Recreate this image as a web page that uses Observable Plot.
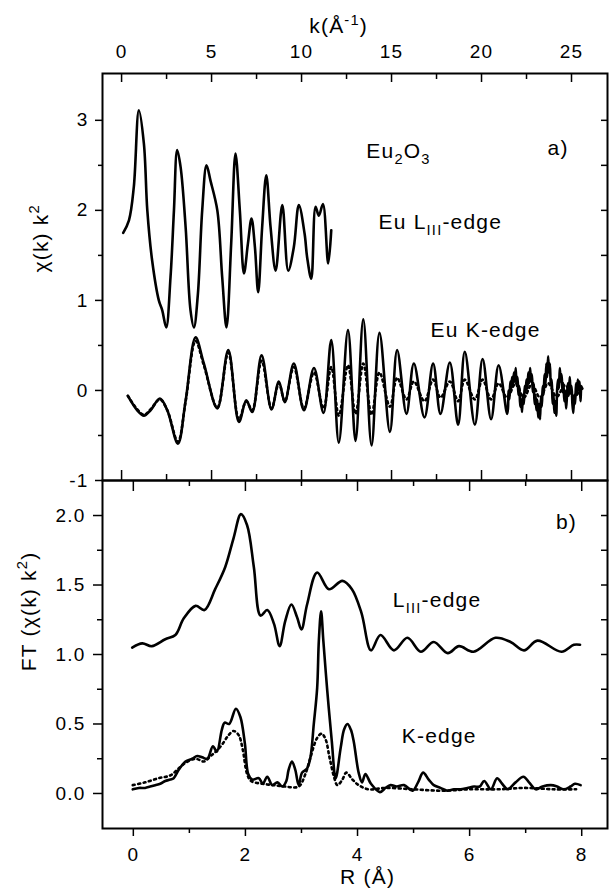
<!DOCTYPE html>
<html><head><meta charset="utf-8">
<script src="https://cdn.jsdelivr.net/npm/d3@7"></script>
<script src="https://cdn.jsdelivr.net/npm/@observablehq/plot@0.6"></script>
<style>
body{margin:0;background:#fff;}
#wrap{position:relative;width:609px;height:889px;overflow:hidden;}
#wrap svg{position:absolute;left:0;overflow:visible;background:transparent;font-family:"Liberation Sans",Arial,Helvetica,sans-serif;color:#000;}
#wrap svg text{letter-spacing:1.2px;}
</style></head><body><div id="wrap"></div>
<script>
// ---------- panel a) chi(k) k^2 ----------
const kTicksMajor = [0, 5, 10, 15, 20, 25];
const kTicksMinor = [2.5, 7.5, 12.5, 17.5, 22.5];
const chiTicksMajor = [-1, 0, 1, 2, 3];
const chiTicksMinor = [-0.5, 0.5, 1.5, 2.5];
const chiTicksRight = [-0.5, 0, 0.5, 1, 1.5, 2, 2.5, 3];

// Eu L_III-edge, experimental [k, chi k^2]
const l3Exafs = [[0.09,1.75],[0.41,1.89],[0.68,2.26],[0.96,3.11],[1.24,2.74],[1.43,2.0],[1.7,1.44],[2.07,1.0],[2.26,0.89],[2.48,0.70],[2.72,1.26],[2.91,2.0],[3.09,2.67],[3.28,2.48],[3.56,1.81],[3.83,0.89],[4.02,0.70],[4.24,1.07],[4.48,2.0],[4.72,2.5],[4.94,2.33],[5.32,2.0],[5.59,1.26],[5.83,0.70],[6.09,1.63],[6.33,2.63],[6.57,2.0],[6.8,1.30],[7.02,1.63],[7.22,1.91],[7.41,1.59],[7.59,1.09],[7.81,1.81],[8.04,2.39],[8.28,1.81],[8.56,1.33],[8.93,2.06],[9.26,1.33],[9.57,1.59],[9.85,2.06],[10.17,1.74],[10.31,1.48],[10.54,1.24],[10.78,2.04],[10.96,1.94],[11.19,2.07],[11.48,1.41],[11.65,1.78]];

// Eu K-edge, experimental [k, chi k^2]
const kExafs = [[0.35,-0.06],[0.87,-0.22],[1.24,-0.28],[1.61,-0.22],[2.13,-0.09],[2.54,-0.22],[3.13,-0.59],[3.56,-0.11],[4.11,0.59],[4.57,0.30],[5.32,-0.20],[5.93,0.45],[6.52,-0.35],[6.93,-0.11],[7.26,-0.24],[7.78,0.39],[8.33,-0.21],[8.74,0.10],[9.07,-0.13],[9.57,0.30],[10.13,-0.22],[10.69,0.25],[11.22,-0.25],[11.65,0.56],[12.07,-0.58],[12.58,0.67],[13.0,-0.56],[13.43,0.79],[13.89,-0.61],[14.33,0.64],[14.91,-0.46],[15.31,0.45],[15.83,-0.26],[16.24,0.30],[16.83,-0.30],[17.31,0.30],[17.72,-0.26],[18.24,0.31],[18.7,-0.38],[19.07,0.43],[19.63,-0.38],[20.06,0.35],[20.53,-0.32],[20.95,0.28],[21.42,-0.26],[21.47,-0.20],[21.5,0.0],[21.55,-0.1],[21.6,0.1],[21.65,0.02],[21.7,0.15],[21.75,0.05],[21.8,0.2],[21.85,0.1],[21.9,0.25],[21.95,0.05],[22.0,0.15],[22.05,-0.05],[22.1,0.05],[22.15,-0.18],[22.2,-0.1],[22.25,-0.24],[22.3,-0.05],[22.35,-0.15],[22.4,0.05],[22.45,-0.02],[22.5,0.12],[22.55,0.02],[22.6,0.2],[22.65,0.08],[22.7,0.25],[22.75,0.1],[22.8,0.18],[22.85,-0.02],[22.9,0.08],[22.95,-0.15],[23.0,-0.05],[23.05,-0.22],[23.1,-0.1],[23.15,-0.3],[23.2,-0.15],[23.25,-0.32],[23.3,-0.08],[23.35,-0.18],[23.4,0.05],[23.45,-0.05],[23.5,0.18],[23.55,0.05],[23.6,0.3],[23.65,0.15],[23.7,0.38],[23.75,0.2],[23.8,0.3],[23.85,0.05],[23.9,0.12],[23.95,-0.15],[24.0,-0.05],[24.05,-0.25],[24.1,-0.12],[24.15,-0.28],[24.2,0.0],[24.25,0.12],[24.3,0.02],[24.35,0.25],[24.4,0.1],[24.45,0.18],[24.5,-0.02],[24.55,0.08],[24.6,-0.12],[24.65,0.0],[24.7,-0.2],[24.75,-0.05],[24.8,0.08],[24.85,-0.06],[24.9,0.15],[24.95,0.0],[25.0,0.05],[25.05,-0.15],[25.1,-0.25],[25.15,-0.05],[25.2,-0.15],[25.25,0.08],[25.3,-0.05],[25.35,0.12],[25.4,0.0],[25.45,0.1],[25.5,-0.12],[25.55,0.05],[25.6,0.02]];

// Eu K-edge, fit (dotted) [k, chi k^2]
const kExafsFit = [[0.35,-0.06],[0.87,-0.21],[1.24,-0.27],[1.61,-0.21],[2.13,-0.10],[2.54,-0.22],[3.13,-0.57],[3.56,-0.12],[4.11,0.55],[4.57,0.28],[5.32,-0.19],[5.93,0.42],[6.52,-0.32],[6.93,-0.12],[7.26,-0.22],[7.78,0.33],[8.33,-0.20],[8.74,0.08],[9.07,-0.12],[9.57,0.26],[10.13,-0.20],[10.69,0.20],[11.22,-0.20],[11.65,0.26],[12.07,-0.28],[12.58,0.28],[13.0,-0.26],[13.43,0.30],[13.89,-0.27],[14.33,0.20],[14.91,-0.18],[15.31,0.14],[15.83,-0.10],[16.24,0.10],[16.83,-0.12],[17.31,0.12],[17.72,-0.08],[18.24,0.10],[18.7,-0.12],[19.07,0.12],[19.63,-0.10],[20.06,0.12],[20.53,-0.10],[20.95,0.08],[21.42,-0.08],[21.9,0.08],[22.35,-0.08],[22.8,0.07],[23.25,-0.08],[23.7,0.08],[24.17,-0.07],[24.65,0.06],[25.1,-0.07],[25.6,0.03]];

// ---------- panel b) FT ----------
const rTicksMajor = [0, 2, 4, 6, 8];
const rTicksMinor = [1, 3, 5, 7];
const ftTicksMajor = [0, 0.5, 1, 1.5, 2];
const ftTicksMinor = [0.25, 0.75, 1.25, 1.75];
const ftTicksRight = [0, 0.25, 0.5, 0.75, 1, 1.25, 1.5, 1.75, 2];

// L_III-edge FT [R, FT]
const l3FT = [[-0.02,1.05],[0.16,1.08],[0.33,1.06],[0.57,1.11],[0.75,1.14],[0.9,1.26],[1.11,1.35],[1.27,1.32],[1.46,1.47],[1.64,1.63],[1.79,1.84],[1.92,2.01],[2.03,1.93],[2.15,1.63],[2.27,1.28],[2.39,1.32],[2.51,1.22],[2.61,1.06],[2.71,1.24],[2.82,1.36],[2.92,1.27],[3.0,1.18],[3.1,1.36],[3.28,1.59],[3.49,1.47],[3.73,1.53],[3.9,1.47],[4.07,1.30],[4.24,1.03],[4.41,1.14],[4.65,1.03],[4.89,1.12],[5.13,1.02],[5.36,1.09],[5.61,1.01],[5.81,1.06],[6.07,1.02],[6.46,1.12],[6.73,1.09],[6.97,1.03],[7.21,1.10],[7.64,1.02],[7.86,1.07],[7.97,1.07]];

// K-edge FT, experimental [R, FT]
const kFT = [[-0.01,0.03],[0.1,0.04],[0.21,0.04],[0.3,0.05],[0.39,0.06],[0.48,0.07],[0.57,0.09],[0.66,0.10],[0.72,0.11],[0.81,0.17],[0.93,0.23],[1.05,0.25],[1.14,0.27],[1.23,0.26],[1.32,0.25],[1.42,0.34],[1.49,0.30],[1.58,0.46],[1.63,0.51],[1.71,0.50],[1.83,0.61],[1.91,0.55],[1.99,0.36],[2.05,0.14],[2.12,0.10],[2.24,0.11],[2.31,0.07],[2.39,0.12],[2.48,0.06],[2.57,0.08],[2.66,0.05],[2.73,0.09],[2.77,0.17],[2.83,0.23],[2.89,0.17],[2.95,0.06],[3.01,0.15],[3.1,0.18],[3.16,0.26],[3.22,0.50],[3.28,0.76],[3.31,1.10],[3.35,1.31],[3.39,1.10],[3.46,0.74],[3.54,0.38],[3.61,0.11],[3.7,0.33],[3.76,0.46],[3.82,0.50],[3.88,0.46],[3.93,0.38],[4.02,0.15],[4.08,0.08],[4.14,0.14],[4.24,0.07],[4.4,0.01],[4.5,0.04],[4.59,0.06],[4.7,0.05],[4.83,0.06],[4.98,0.02],[5.08,0.08],[5.17,0.15],[5.27,0.10],[5.36,0.06],[5.48,0.04],[5.6,0.02],[5.72,0.03],[5.84,0.03],[5.96,0.04],[6.08,0.05],[6.18,0.05],[6.26,0.09],[6.38,0.03],[6.49,0.11],[6.58,0.07],[6.68,0.03],[6.82,0.08],[6.96,0.12],[7.06,0.08],[7.18,0.03],[7.3,0.05],[7.45,0.06],[7.56,0.05],[7.68,0.03],[7.8,0.05],[7.88,0.07],[7.98,0.06]];

// K-edge FT, fit (dotted) [R, FT]
const kFTFit = [[-0.01,0.06],[0.21,0.08],[0.45,0.11],[0.66,0.13],[0.81,0.18],[0.93,0.22],[1.11,0.25],[1.26,0.23],[1.38,0.27],[1.47,0.30],[1.58,0.35],[1.7,0.42],[1.79,0.45],[1.88,0.42],[1.95,0.32],[2.03,0.14],[2.1,0.09],[2.3,0.07],[2.5,0.06],[2.7,0.05],[2.95,0.05],[3.07,0.14],[3.16,0.26],[3.28,0.40],[3.36,0.43],[3.43,0.39],[3.5,0.26],[3.58,0.12],[3.64,0.06],[3.73,0.10],[3.8,0.15],[3.91,0.10],[4.02,0.06],[4.2,0.03],[4.5,0.04],[5.0,0.03],[5.5,0.02],[6.0,0.03],[6.5,0.03],[7.0,0.04],[7.5,0.03],[7.9,0.03]];

// ---------- drawing ----------
const W = 609;
const lab = 19, txt = 21, lw = 2.6, tw = 1.5;
const dots = {strokeWidth: 2.6, strokeDasharray: "2,3.5"};
const blank = () => "";
const xy = a => a.map(([x, y]) => ({x, y}));

const topPlot = Plot.plot({
  width: W, height: 480,
  marginTop: 73, marginBottom: 0, marginLeft: 102, marginRight: 2,
  x: {domain: [-1.06, 27.0]},
  y: {domain: [-1, 3.52]},
  marks: [
    Plot.axisX({ticks: kTicksMajor, anchor: "top", tickSize: 0, tickPadding: 16, fontSize: lab, label: null, tickFormat: d => String(d)}),
    Plot.axisX({ticks: kTicksMajor, anchor: "top", tickSize: -8, strokeWidth: tw, tickFormat: blank, label: null}),
    Plot.axisX({ticks: kTicksMinor, anchor: "top", tickSize: -5, strokeWidth: tw, tickFormat: blank, label: null}),
    Plot.axisX({ticks: kTicksMajor, anchor: "bottom", tickSize: -10, strokeWidth: tw, tickFormat: blank, label: null}),
    Plot.axisX({ticks: kTicksMinor, anchor: "bottom", tickSize: -6, strokeWidth: tw, tickFormat: blank, label: null}),
    Plot.axisY({ticks: chiTicksMajor, anchor: "left", tickSize: 0, tickPadding: 14, fontSize: lab, label: null, tickFormat: d => String(d)}),
    Plot.axisY({ticks: chiTicksMajor, anchor: "left", tickSize: 7, strokeWidth: tw, tickFormat: blank, label: null}),
    Plot.axisY({ticks: chiTicksMinor, anchor: "left", tickSize: 4, strokeWidth: tw, tickFormat: blank, label: null}),
    Plot.axisY({ticks: chiTicksRight, anchor: "right", tickSize: -7, strokeWidth: tw, tickFormat: blank, label: null}),
    Plot.frame({strokeWidth: 2}),
    Plot.line(xy(l3Exafs), {x: "x", y: "y", curve: "catmull-rom", strokeWidth: lw}),
    Plot.line(xy(kExafsFit), {x: "x", y: "y", curve: "catmull-rom", ...dots}),
    Plot.line(xy(kExafs), {x: "x", y: "y", curve: "catmull-rom", strokeWidth: lw}),
    Plot.text(["k(Å^{-1})"], {x: 12.06, frameAnchor: "top", dy: -55, fontSize: txt}),
    Plot.text(["χ(k) k^{2}"], {frameAnchor: "left", y: 1.31, dx: -61, rotate: -90, fontSize: txt}),
    Plot.text(["Eu_{2}O_{3}"], {x: 13.6, y: 2.66, textAnchor: "start", fontSize: txt}),
    Plot.text(["a)"], {x: 23.67, y: 2.69, textAnchor: "start", fontSize: txt}),
    Plot.text(["Eu L_{III}-edge"], {x: 14.28, y: 1.87, textAnchor: "start", fontSize: txt}),
    Plot.text(["Eu K-edge"], {x: 17.17, y: 0.67, textAnchor: "start", fontSize: txt})
  ]
});

const botPlot = Plot.plot({
  width: W, height: 409,
  marginTop: 0, marginBottom: 61, marginLeft: 102, marginRight: 2,
  x: {domain: [-0.55, 8.46]},
  y: {domain: [-0.252, 2.252]},
  marks: [
    Plot.axisX({ticks: rTicksMajor, anchor: "bottom", tickSize: 0, tickPadding: 19, fontSize: lab, label: null, tickFormat: d => String(d)}),
    Plot.axisX({ticks: rTicksMajor, anchor: "bottom", tickSize: 8, strokeWidth: tw, tickFormat: blank, label: null}),
    Plot.axisX({ticks: rTicksMinor, anchor: "bottom", tickSize: 5, strokeWidth: tw, tickFormat: blank, label: null}),
    Plot.axisX({ticks: rTicksMajor, anchor: "top", tickSize: -10, strokeWidth: tw, tickFormat: blank, label: null}),
    Plot.axisX({ticks: rTicksMinor, anchor: "top", tickSize: -5, strokeWidth: tw, tickFormat: blank, label: null}),
    Plot.axisY({ticks: ftTicksMajor, anchor: "left", tickSize: 0, tickPadding: 17, fontSize: lab, label: null, tickFormat: d => d.toFixed(1)}),
    Plot.axisY({ticks: ftTicksMajor, anchor: "left", tickSize: 9, strokeWidth: tw, tickFormat: blank, label: null}),
    Plot.axisY({ticks: ftTicksMinor, anchor: "left", tickSize: 5, strokeWidth: tw, tickFormat: blank, label: null}),
    Plot.axisY({ticks: ftTicksRight, anchor: "right", tickSize: -7, strokeWidth: tw, tickFormat: blank, label: null}),
    Plot.frame({strokeWidth: 2}),
    Plot.line(xy(l3FT), {x: "x", y: "y", curve: "catmull-rom", strokeWidth: lw}),
    Plot.line(xy(kFTFit), {x: "x", y: "y", curve: "catmull-rom", ...dots}),
    Plot.line(xy(kFT), {x: "x", y: "y", curve: "catmull-rom", strokeWidth: lw}),
    Plot.text(["R (Å)"], {x: 4.18, frameAnchor: "bottom", dy: 55, fontSize: txt}),
    Plot.text(["FT (χ(k) k^{2})"], {frameAnchor: "left", y: 0.88, dx: -73, rotate: -90, fontSize: txt}),
    Plot.text(["b)"], {x: 7.54, y: 1.95, textAnchor: "start", fontSize: txt}),
    Plot.text(["L_{III}-edge"], {x: 4.63, y: 1.39, textAnchor: "start", fontSize: txt}),
    Plot.text(["K-edge"], {x: 4.79, y: 0.41, textAnchor: "start", fontSize: txt})
  ]
});

const wrap = document.getElementById("wrap");
topPlot.style.top = "0px";
botPlot.style.top = "480px";
wrap.appendChild(botPlot);
wrap.appendChild(topPlot);

// turn _{..} / ^{..} markup into real sub/superscript tspans
function richText(svg) {
  const NS = "http://www.w3.org/2000/svg";
  svg.querySelectorAll("text").forEach(t => {
    const s = t.textContent;
    if (!/[_^]\{/.test(s)) return;
    const fs = parseFloat(getComputedStyle(t).fontSize) || txt;
    while (t.firstChild) t.removeChild(t.firstChild);
    const re = /([_^])\{([^}]*)\}/g;
    let last = 0, m, shift = 0;
    const add = (str, target, small) => {
      if (!str) return;
      const sp = document.createElementNS(NS, "tspan");
      const d = target - shift;
      if (d) sp.setAttribute("dy", d);
      if (small) sp.setAttribute("font-size", fs * 0.7);
      sp.textContent = str;
      t.appendChild(sp);
      shift = target;
    };
    while ((m = re.exec(s))) {
      add(s.slice(last, m.index), 0, false);
      add(m[2], m[1] === "_" ? fs * 0.3 : -fs * 0.42, true);
      last = re.lastIndex;
    }
    add(s.slice(last), 0, false);
  });
}
richText(topPlot);
richText(botPlot);
</script></body></html>
